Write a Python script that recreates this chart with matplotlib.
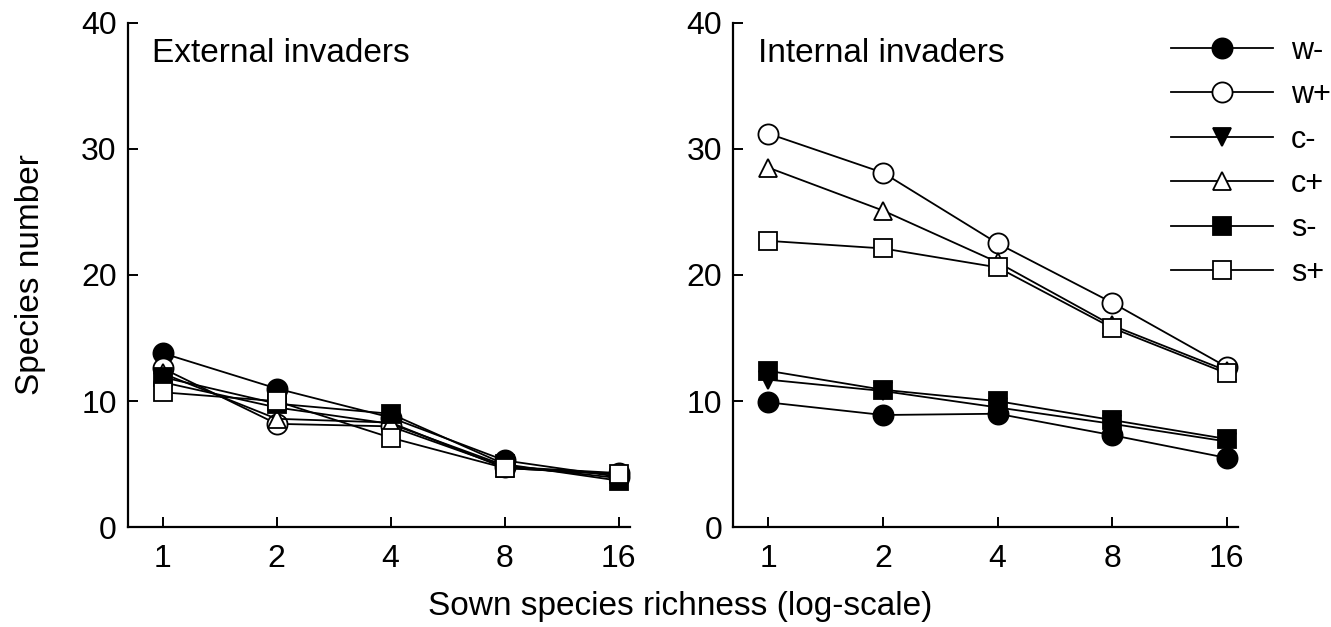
import matplotlib.pyplot as plt
import numpy as np

plt.rcParams['font.family'] = ['Liberation Sans', 'DejaVu Sans']

# Sown species richness levels
richness = [1, 2, 4, 8, 16]
labels = ['w-', 'w+', 'c-', 'c+', 's-', 's+']

# External invaders (species number)
ext_w_minus = [13.8, 11.0, 8.7, 5.3, 4.0]
ext_w_plus = [12.6, 8.2, 8.0, 4.8, 4.3]
ext_c_minus = [11.5, 9.5, 8.2, 4.9, 3.9]
ext_c_plus = [12.2, 8.6, 8.3, 4.7, 4.2]
ext_s_minus = [11.9, 9.8, 9.0, 5.0, 3.7]
ext_s_plus = [10.7, 10.0, 7.1, 4.7, 4.2]

# Internal invaders (species number)
int_w_minus = [9.9, 8.9, 9.0, 7.3, 5.5]
int_w_plus = [31.2, 28.1, 22.5, 17.8, 12.7]
int_c_minus = [11.7, 10.8, 9.5, 8.2, 6.8]
int_c_plus = [28.5, 25.1, 21.0, 16.0, 12.4]
int_s_minus = [12.4, 10.9, 10.0, 8.5, 7.0]
int_s_plus = [22.7, 22.1, 20.6, 15.8, 12.2]

ext_series = [ext_w_minus, ext_w_plus, ext_c_minus, ext_c_plus, ext_s_minus, ext_s_plus]
int_series = [int_w_minus, int_w_plus, int_c_minus, int_c_plus, int_s_minus, int_s_plus]

markers = ['o', 'o', 'v', '^', 's', 's']
faces = ['black', 'white', 'black', 'white', 'black', 'white']
sizes = [14.5, 14.5, 13, 13, 13, 13]

fig = plt.figure(figsize=(13.31, 6.27), dpi=100)
ax1 = fig.add_axes([0.096, 0.159, 0.377, 0.805])
ax2 = fig.add_axes([0.551, 0.159, 0.379, 0.805])

for ax, series, title in [(ax1, ext_series, 'External invaders'),
                          (ax2, int_series, 'Internal invaders')]:
    for vals, lab, m, fc, ms in zip(series, labels, markers, faces, sizes):
        ax.plot(richness, vals, color='black', lw=1.3, marker=m, ms=ms,
                mfc=fc, mec='black', mew=1.3, label=lab)
    ax.set_xscale('log', base=2)
    ax.set_xlim(0.809, 17.1)
    ax.set_ylim(0, 40)
    ax.set_xticks(richness)
    ax.set_xticklabels([str(r) for r in richness])
    ax.minorticks_off()
    ax.set_yticks([0, 10, 20, 30, 40])
    ax.spines['top'].set_visible(False)
    ax.spines['right'].set_visible(False)
    ax.spines['left'].set_linewidth(1.6)
    ax.spines['bottom'].set_linewidth(1.6)
    ax.tick_params(direction='in', length=7, width=1.4, labelsize=23)
    ax.tick_params(axis='x', pad=12)
    ax.tick_params(axis='y', pad=8)
    ax.text(0.048, 0.97, title, transform=ax.transAxes, fontsize=24,
            va='top', ha='left')

ax2.legend(loc='upper left', bbox_to_anchor=(0.843, 0.998), frameon=False,
           fontsize=22, handlelength=3.34, labelspacing=0.47, handletextpad=0.6,
           borderaxespad=0)

ax1.set_ylabel('Species number', fontsize=24, labelpad=25)
fig.text(0.511, 0.008, 'Sown species richness (log-scale)', fontsize=24,
         ha='center', va='bottom')

plt.savefig('out.png', dpi=100)
